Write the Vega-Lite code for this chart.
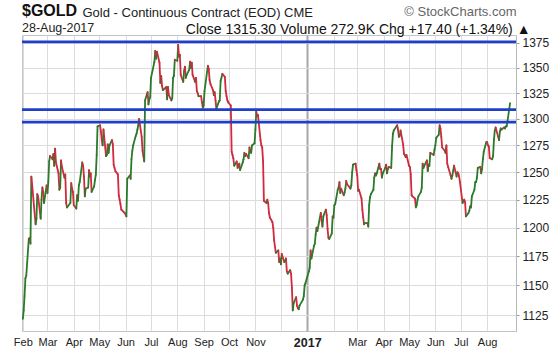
{
  "$schema": "https://vega.github.io/schema/vega-lite/v6.json",
  "width": 494,
  "height": 296,
  "autosize": "none",
  "padding": {"left": 22, "top": 35, "right": 44, "bottom": 24},
  "background": "white",
  "config": {
    "font": "Liberation Sans",
    "view": {"stroke": "#c4c4c4", "strokeWidth": 1}
  },
  "title": {
    "text": "$GOLD",
    "subtitle": "28-Aug-2017",
    "anchor": "start",
    "frame": "group",
    "fontSize": 16,
    "fontWeight": "bold",
    "color": "#111",
    "subtitleFontSize": 12.5,
    "subtitleColor": "#222",
    "subtitlePadding": 3,
    "offset": -29
  },
  "resolve": {"axis": {"y": "independent"}},
  "layer": [
    {
      "data": {
        "values": [
          {"d":"2016-02-01","c":1122},{"d":"2016-02-02","c":1129},{"d":"2016-02-03","c":1141},{"d":"2016-02-04","c":1156},{"d":"2016-02-05","c":1158},
          {"d":"2016-02-08","c":1190},{"d":"2016-02-09","c":1191},{"d":"2016-02-10","c":1186},{"d":"2016-02-11","c":1246},{"d":"2016-02-12","c":1238},
          {"d":"2016-02-16","c":1203},{"d":"2016-02-17","c":1208},{"d":"2016-02-18","c":1230},{"d":"2016-02-19","c":1228},{"d":"2016-02-22","c":1208},
          {"d":"2016-02-23","c":1225},{"d":"2016-02-24","c":1236},{"d":"2016-02-25","c":1232},{"d":"2016-02-26","c":1222},{"d":"2016-02-29","c":1238},
          {"d":"2016-03-01","c":1231},{"d":"2016-03-02","c":1241},{"d":"2016-03-03","c":1260},{"d":"2016-03-04","c":1265},{"d":"2016-03-07","c":1262},
          {"d":"2016-03-08","c":1267},{"d":"2016-03-09","c":1256},{"d":"2016-03-10","c":1272},{"d":"2016-03-11","c":1259},{"d":"2016-03-14","c":1249},
          {"d":"2016-03-15","c":1234},{"d":"2016-03-16","c":1236},{"d":"2016-03-17","c":1261},{"d":"2016-03-18","c":1255},{"d":"2016-03-21","c":1245},
          {"d":"2016-03-22","c":1248},{"d":"2016-03-23","c":1222},{"d":"2016-03-24","c":1218},{"d":"2016-03-28","c":1222},{"d":"2016-03-29","c":1240},
          {"d":"2016-03-30","c":1235},{"d":"2016-03-31","c":1232},{"d":"2016-04-01","c":1220},{"d":"2016-04-04","c":1217},{"d":"2016-04-05","c":1229},
          {"d":"2016-04-06","c":1224},{"d":"2016-04-07","c":1238},{"d":"2016-04-08","c":1241},{"d":"2016-04-11","c":1259},{"d":"2016-04-12","c":1256},
          {"d":"2016-04-13","c":1246},{"d":"2016-04-14","c":1228},{"d":"2016-04-15","c":1235},{"d":"2016-04-18","c":1236},{"d":"2016-04-19","c":1252},
          {"d":"2016-04-20","c":1246},{"d":"2016-04-21","c":1249},{"d":"2016-04-22","c":1232},{"d":"2016-04-25","c":1237},{"d":"2016-04-26","c":1243},
          {"d":"2016-04-27","c":1248},{"d":"2016-04-28","c":1266},{"d":"2016-04-29","c":1293},{"d":"2016-05-02","c":1294},{"d":"2016-05-03","c":1288},
          {"d":"2016-05-04","c":1280},{"d":"2016-05-05","c":1275},{"d":"2016-05-06","c":1290},{"d":"2016-05-09","c":1265},{"d":"2016-05-10","c":1266},
          {"d":"2016-05-11","c":1276},{"d":"2016-05-12","c":1268},{"d":"2016-05-13","c":1275},{"d":"2016-05-16","c":1280},{"d":"2016-05-17","c":1276},
          {"d":"2016-05-18","c":1257},{"d":"2016-05-19","c":1254},{"d":"2016-05-20","c":1251},{"d":"2016-05-23","c":1248},{"d":"2016-05-24","c":1229},
          {"d":"2016-05-25","c":1225},{"d":"2016-05-26","c":1221},{"d":"2016-05-27","c":1216},{"d":"2016-05-31","c":1213},{"d":"2016-06-01","c":1212},
          {"d":"2016-06-02","c":1210},{"d":"2016-06-03","c":1244},{"d":"2016-06-06","c":1247},{"d":"2016-06-07","c":1244},{"d":"2016-06-08","c":1262},
          {"d":"2016-06-09","c":1270},{"d":"2016-06-10","c":1275},{"d":"2016-06-13","c":1284},{"d":"2016-06-14","c":1286},{"d":"2016-06-15","c":1290},
          {"d":"2016-06-16","c":1294},{"d":"2016-06-17","c":1300},{"d":"2016-06-20","c":1283},{"d":"2016-06-21","c":1270},{"d":"2016-06-22","c":1265},
          {"d":"2016-06-23","c":1260},{"d":"2016-06-24","c":1318},{"d":"2016-06-27","c":1326},{"d":"2016-06-28","c":1314},{"d":"2016-06-29","c":1319},
          {"d":"2016-06-30","c":1321},{"d":"2016-07-01","c":1340},{"d":"2016-07-05","c":1356},{"d":"2016-07-06","c":1367},{"d":"2016-07-07","c":1359},
          {"d":"2016-07-08","c":1366},{"d":"2016-07-11","c":1355},{"d":"2016-07-12","c":1335},{"d":"2016-07-13","c":1342},{"d":"2016-07-14","c":1332},
          {"d":"2016-07-15","c":1328},{"d":"2016-07-18","c":1330},{"d":"2016-07-19","c":1331},{"d":"2016-07-20","c":1319},{"d":"2016-07-21","c":1331},
          {"d":"2016-07-22","c":1323},{"d":"2016-07-25","c":1318},{"d":"2016-07-26","c":1320},{"d":"2016-07-27","c":1340},{"d":"2016-07-28","c":1342},
          {"d":"2016-07-29","c":1358},{"d":"2016-08-01","c":1357},{"d":"2016-08-02","c":1373},{"d":"2016-08-03","c":1361},{"d":"2016-08-04","c":1363},
          {"d":"2016-08-05","c":1343},{"d":"2016-08-08","c":1336},{"d":"2016-08-09","c":1347},{"d":"2016-08-10","c":1351},{"d":"2016-08-11","c":1340},
          {"d":"2016-08-12","c":1343},{"d":"2016-08-15","c":1348},{"d":"2016-08-16","c":1356},{"d":"2016-08-17","c":1350},{"d":"2016-08-18","c":1355},
          {"d":"2016-08-19","c":1343},{"d":"2016-08-22","c":1336},{"d":"2016-08-23","c":1340},{"d":"2016-08-24","c":1327},{"d":"2016-08-25","c":1325},
          {"d":"2016-08-26","c":1322},{"d":"2016-08-29","c":1322},{"d":"2016-08-30","c":1316},{"d":"2016-08-31","c":1311},{"d":"2016-09-01","c":1313},
          {"d":"2016-09-02","c":1327},{"d":"2016-09-06","c":1352},{"d":"2016-09-07","c":1349},{"d":"2016-09-08","c":1338},{"d":"2016-09-09","c":1334},
          {"d":"2016-09-12","c":1328},{"d":"2016-09-13","c":1323},{"d":"2016-09-14","c":1326},{"d":"2016-09-15","c":1318},{"d":"2016-09-16","c":1310},
          {"d":"2016-09-19","c":1317},{"d":"2016-09-20","c":1318},{"d":"2016-09-21","c":1337},{"d":"2016-09-22","c":1340},{"d":"2016-09-23","c":1344},
          {"d":"2016-09-26","c":1341},{"d":"2016-09-27","c":1327},{"d":"2016-09-28","c":1322},{"d":"2016-09-29","c":1318},{"d":"2016-09-30","c":1316},
          {"d":"2016-10-03","c":1313},{"d":"2016-10-04","c":1269},{"d":"2016-10-05","c":1266},{"d":"2016-10-06","c":1263},{"d":"2016-10-07","c":1256},
          {"d":"2016-10-10","c":1260},{"d":"2016-10-11","c":1254},{"d":"2016-10-12","c":1256},{"d":"2016-10-13","c":1258},{"d":"2016-10-14","c":1252},
          {"d":"2016-10-17","c":1259},{"d":"2016-10-18","c":1262},{"d":"2016-10-19","c":1268},{"d":"2016-10-20","c":1265},{"d":"2016-10-21","c":1267},
          {"d":"2016-10-24","c":1263},{"d":"2016-10-25","c":1273},{"d":"2016-10-26","c":1270},{"d":"2016-10-27","c":1268},{"d":"2016-10-28","c":1275},
          {"d":"2016-10-31","c":1277},{"d":"2016-11-01","c":1290},{"d":"2016-11-02","c":1307},{"d":"2016-11-03","c":1303},{"d":"2016-11-04","c":1304},
          {"d":"2016-11-07","c":1280},{"d":"2016-11-08","c":1275},{"d":"2016-11-09","c":1273},{"d":"2016-11-10","c":1260},{"d":"2016-11-11","c":1224},
          {"d":"2016-11-14","c":1222},{"d":"2016-11-15","c":1225},{"d":"2016-11-16","c":1222},{"d":"2016-11-17","c":1213},{"d":"2016-11-18","c":1209},
          {"d":"2016-11-21","c":1205},{"d":"2016-11-22","c":1200},{"d":"2016-11-23","c":1189},{"d":"2016-11-25","c":1178},{"d":"2016-11-28","c":1180},
          {"d":"2016-11-29","c":1170},{"d":"2016-11-30","c":1173},{"d":"2016-12-01","c":1168},{"d":"2016-12-02","c":1177},{"d":"2016-12-05","c":1170},
          {"d":"2016-12-06","c":1171},{"d":"2016-12-07","c":1173},{"d":"2016-12-08","c":1162},{"d":"2016-12-09","c":1160},{"d":"2016-12-12","c":1163},
          {"d":"2016-12-13","c":1160},{"d":"2016-12-14","c":1148},{"d":"2016-12-15","c":1129},{"d":"2016-12-16","c":1135},{"d":"2016-12-19","c":1140},
          {"d":"2016-12-20","c":1133},{"d":"2016-12-21","c":1131},{"d":"2016-12-22","c":1130},{"d":"2016-12-23","c":1133},{"d":"2016-12-27","c":1138},
          {"d":"2016-12-28","c":1141},{"d":"2016-12-29","c":1150},{"d":"2016-12-30","c":1152},{"d":"2017-01-03","c":1162},{"d":"2017-01-04","c":1165},
          {"d":"2017-01-05","c":1180},{"d":"2017-01-06","c":1173},{"d":"2017-01-09","c":1184},{"d":"2017-01-10","c":1186},{"d":"2017-01-11","c":1194},
          {"d":"2017-01-12","c":1200},{"d":"2017-01-13","c":1197},{"d":"2017-01-17","c":1213},{"d":"2017-01-18","c":1206},{"d":"2017-01-19","c":1201},
          {"d":"2017-01-20","c":1210},{"d":"2017-01-23","c":1216},{"d":"2017-01-24","c":1211},{"d":"2017-01-25","c":1199},{"d":"2017-01-26","c":1191},
          {"d":"2017-01-27","c":1190},{"d":"2017-01-30","c":1195},{"d":"2017-01-31","c":1210},{"d":"2017-02-01","c":1209},{"d":"2017-02-02","c":1220},
          {"d":"2017-02-03","c":1221},{"d":"2017-02-06","c":1234},{"d":"2017-02-07","c":1236},{"d":"2017-02-08","c":1241},{"d":"2017-02-09","c":1231},
          {"d":"2017-02-10","c":1235},{"d":"2017-02-13","c":1229},{"d":"2017-02-14","c":1231},{"d":"2017-02-15","c":1235},{"d":"2017-02-16","c":1242},
          {"d":"2017-02-17","c":1239},{"d":"2017-02-21","c":1235},{"d":"2017-02-22","c":1238},{"d":"2017-02-23","c":1250},{"d":"2017-02-24","c":1257},
          {"d":"2017-02-27","c":1258},{"d":"2017-02-28","c":1252},{"d":"2017-03-01","c":1247},{"d":"2017-03-02","c":1233},{"d":"2017-03-03","c":1234},
          {"d":"2017-03-06","c":1226},{"d":"2017-03-07","c":1216},{"d":"2017-03-08","c":1209},{"d":"2017-03-09","c":1203},{"d":"2017-03-10","c":1204},
          {"d":"2017-03-13","c":1204},{"d":"2017-03-14","c":1201},{"d":"2017-03-15","c":1220},{"d":"2017-03-16","c":1227},{"d":"2017-03-17","c":1230},
          {"d":"2017-03-20","c":1234},{"d":"2017-03-21","c":1245},{"d":"2017-03-22","c":1249},{"d":"2017-03-23","c":1247},{"d":"2017-03-24","c":1249},
          {"d":"2017-03-27","c":1258},{"d":"2017-03-28","c":1253},{"d":"2017-03-29","c":1253},{"d":"2017-03-30","c":1245},{"d":"2017-03-31","c":1249},
          {"d":"2017-04-03","c":1254},{"d":"2017-04-04","c":1257},{"d":"2017-04-05","c":1249},{"d":"2017-04-06","c":1253},{"d":"2017-04-07","c":1255},
          {"d":"2017-04-10","c":1254},{"d":"2017-04-11","c":1274},{"d":"2017-04-12","c":1286},{"d":"2017-04-13","c":1289},{"d":"2017-04-17","c":1294},
          {"d":"2017-04-18","c":1290},{"d":"2017-04-19","c":1283},{"d":"2017-04-20","c":1284},{"d":"2017-04-21","c":1289},{"d":"2017-04-24","c":1276},
          {"d":"2017-04-25","c":1267},{"d":"2017-04-26","c":1266},{"d":"2017-04-27","c":1264},{"d":"2017-04-28","c":1266},{"d":"2017-05-01","c":1256},
          {"d":"2017-05-02","c":1255},{"d":"2017-05-03","c":1248},{"d":"2017-05-04","c":1229},{"d":"2017-05-05","c":1228},{"d":"2017-05-08","c":1226},
          {"d":"2017-05-09","c":1218},{"d":"2017-05-10","c":1220},{"d":"2017-05-11","c":1225},{"d":"2017-05-12","c":1228},{"d":"2017-05-15","c":1232},
          {"d":"2017-05-16","c":1236},{"d":"2017-05-17","c":1258},{"d":"2017-05-18","c":1254},{"d":"2017-05-19","c":1256},{"d":"2017-05-22","c":1261},
          {"d":"2017-05-23","c":1251},{"d":"2017-05-24","c":1257},{"d":"2017-05-25","c":1256},{"d":"2017-05-26","c":1268},{"d":"2017-05-30","c":1266},
          {"d":"2017-05-31","c":1271},{"d":"2017-06-01","c":1275},{"d":"2017-06-02","c":1282},{"d":"2017-06-05","c":1285},{"d":"2017-06-06","c":1294},
          {"d":"2017-06-07","c":1291},{"d":"2017-06-08","c":1283},{"d":"2017-06-09","c":1273},{"d":"2017-06-12","c":1270},{"d":"2017-06-13","c":1268},
          {"d":"2017-06-14","c":1275},{"d":"2017-06-15","c":1258},{"d":"2017-06-16","c":1255},{"d":"2017-06-19","c":1247},{"d":"2017-06-20","c":1244},
          {"d":"2017-06-21","c":1247},{"d":"2017-06-22","c":1251},{"d":"2017-06-23","c":1256},{"d":"2017-06-26","c":1246},{"d":"2017-06-27","c":1250},
          {"d":"2017-06-28","c":1249},{"d":"2017-06-29","c":1246},{"d":"2017-06-30","c":1241},{"d":"2017-07-03","c":1222},{"d":"2017-07-05","c":1225},
          {"d":"2017-07-06","c":1223},{"d":"2017-07-07","c":1210},{"d":"2017-07-10","c":1213},{"d":"2017-07-11","c":1215},{"d":"2017-07-12","c":1219},
          {"d":"2017-07-13","c":1218},{"d":"2017-07-14","c":1228},{"d":"2017-07-17","c":1234},{"d":"2017-07-18","c":1241},{"d":"2017-07-19","c":1241},
          {"d":"2017-07-20","c":1245},{"d":"2017-07-21","c":1254},{"d":"2017-07-24","c":1255},{"d":"2017-07-25","c":1249},{"d":"2017-07-26","c":1253},
          {"d":"2017-07-27","c":1262},{"d":"2017-07-28","c":1269},{"d":"2017-07-31","c":1278},{"d":"2017-08-01","c":1278},{"d":"2017-08-02","c":1275},
          {"d":"2017-08-03","c":1274},{"d":"2017-08-04","c":1263},{"d":"2017-08-07","c":1262},{"d":"2017-08-08","c":1265},{"d":"2017-08-09","c":1280},
          {"d":"2017-08-10","c":1289},{"d":"2017-08-11","c":1292},{"d":"2017-08-14","c":1283},{"d":"2017-08-15","c":1280},{"d":"2017-08-16","c":1288},
          {"d":"2017-08-17","c":1291},{"d":"2017-08-18","c":1290},{"d":"2017-08-21","c":1292},{"d":"2017-08-22","c":1291},{"d":"2017-08-23","c":1293},
          {"d":"2017-08-24","c":1293},{"d":"2017-08-25","c":1298},{"d":"2017-08-28","c":1315.3}
        ],
        "format": {"parse": {"d": "date"}}
      },
      "transform": [
        {"window": [{"op": "lag", "field": "c", "as": "p"}, {"op": "lag", "field": "d", "as": "pd"}], "sort": [{"field": "d", "order": "ascending"}]},
        {"filter": "datum.p != null"}
      ],
      "mark": {"type": "rule", "strokeWidth": 1.8, "strokeCap": "round"},
      "encoding": {
        "x": {
          "field": "pd",
          "type": "temporal",
          "scale": {"type": "utc", "domain": [{"year": 2016, "month": 1, "date": 31, "utc": true}, {"year": 2017, "month": 9, "date": 4, "utc": true}]},
          "axis": {
            "orient": "bottom",
            "values": [
              {"year": 2016, "month": 2, "date": 1, "utc": true}, {"year": 2016, "month": 3, "date": 1, "utc": true},
              {"year": 2016, "month": 4, "date": 1, "utc": true}, {"year": 2016, "month": 5, "date": 1, "utc": true},
              {"year": 2016, "month": 6, "date": 1, "utc": true}, {"year": 2016, "month": 7, "date": 1, "utc": true},
              {"year": 2016, "month": 8, "date": 1, "utc": true}, {"year": 2016, "month": 9, "date": 1, "utc": true},
              {"year": 2016, "month": 10, "date": 1, "utc": true}, {"year": 2016, "month": 11, "date": 1, "utc": true},
              {"year": 2016, "month": 12, "date": 1, "utc": true}, {"year": 2017, "month": 1, "date": 1, "utc": true},
              {"year": 2017, "month": 2, "date": 1, "utc": true}, {"year": 2017, "month": 3, "date": 1, "utc": true},
              {"year": 2017, "month": 4, "date": 1, "utc": true}, {"year": 2017, "month": 5, "date": 1, "utc": true},
              {"year": 2017, "month": 6, "date": 1, "utc": true}, {"year": 2017, "month": 7, "date": 1, "utc": true},
              {"year": 2017, "month": 8, "date": 1, "utc": true}
            ],
            "labelExpr": "utcmonth(datum.value) == 0 ? utcFormat(datum.value, '%Y') : ((utcmonth(datum.value) == 11 || (utcyear(datum.value) == 2017 && utcmonth(datum.value) == 1)) ? '' : utcFormat(datum.value, '%b'))",
            "labelFontSize": {"condition": {"test": "utcmonth(datum.value) == 0", "value": 12.5}, "value": 11},
            "labelFontWeight": {"condition": {"test": "utcmonth(datum.value) == 0", "value": "bold"}, "value": "normal"},
            "labelColor": "#222",
            "labelPadding": 5,
            "labelOverlap": false,
            "labelFlush": false,
            "ticks": false,
            "domain": false,
            "grid": true,
            "gridColor": {"condition": {"test": "utcmonth(datum.value) == 0", "value": "#a8a8a8"}, "value": "#dcdcdc"},
            "gridWidth": {"condition": {"test": "utcmonth(datum.value) == 0", "value": 2}, "value": 1},
            "title": "Close 1315.30   Volume 272.9K   Chg +17.40 (+1.34%) ▲",
            "titleFontSize": 14,
            "titleFontWeight": "normal",
            "titleColor": "#111",
            "titleAlign": "right",
            "titleBaseline": "alphabetic",
            "titleAnchor": null,
            "titleX": 508,
            "titleY": -298
          }
        },
        "x2": {"field": "d"},
        "y": {
          "field": "p",
          "type": "quantitative",
          "scale": {"type": "log", "domain": [1112, 1383], "nice": false, "zero": false},
          "axis": {
            "orient": "right",
            "values": [1125, 1150, 1175, 1200, 1225, 1250, 1275, 1300, 1325, 1350, 1375],
            "format": "d",
            "labelFontSize": 12,
            "labelColor": "#222",
            "labelPadding": 3,
            "ticks": true,
            "tickSize": 3,
            "tickColor": "#999",
            "domain": true,
            "domainColor": "#b8b8b8",
            "grid": true,
            "gridColor": "#dcdcdc",
            "gridWidth": 1,
            "title": "© StockCharts.com",
            "titleAngle": 0,
            "titleFontSize": 13,
            "titleFontWeight": "normal",
            "titleColor": "#666",
            "titleAlign": "right",
            "titleBaseline": "alphabetic",
            "titleAnchor": null,
            "titleX": 0,
            "titleY": -20
          }
        },
        "y2": {"field": "c"},
        "color": {"condition": {"test": "datum.c >= datum.p", "value": "#2a7a2a"}, "value": "#cf2a3e"}
      }
    },
    {
      "data": {"values": [{"v": 1376}, {"v": 1309}, {"v": 1297}]},
      "mark": {"type": "rule", "strokeWidth": 2.6, "color": "#1f3fc8"},
      "encoding": {
        "y": {
          "field": "v",
          "type": "quantitative",
          "scale": {"type": "log", "domain": [1112, 1383], "nice": false, "zero": false},
          "axis": {
            "orient": "left",
            "labels": false,
            "ticks": false,
            "domain": false,
            "grid": false,
            "title": "Gold - Continuous Contract (EOD)  CME",
            "titleAngle": 0,
            "titleFontSize": 13,
            "titleFontWeight": "normal",
            "titleColor": "#222",
            "titleAlign": "left",
            "titleBaseline": "alphabetic",
            "titleAnchor": null,
            "titleX": 60,
            "titleY": -19
          }
        }
      }
    }
  ]
}
